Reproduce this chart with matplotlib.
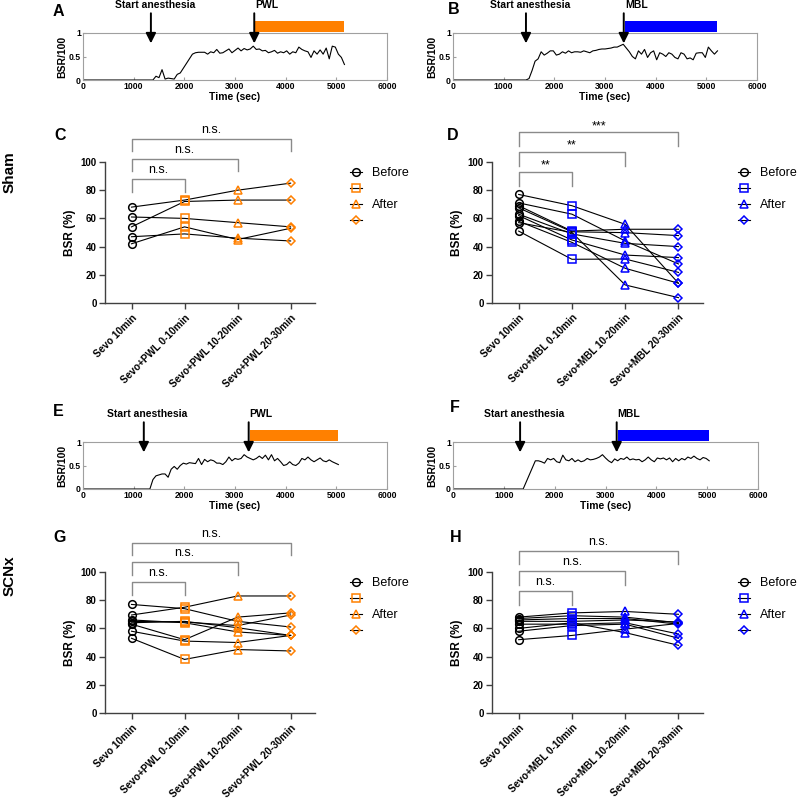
import matplotlib

matplotlib.use("Agg")

import matplotlib.pyplot as plt
import numpy as np
from matplotlib.lines import Line2D

plt.rcParams["font.family"] = ["Liberation Sans", "DejaVu Sans"]
plt.rcParams["font.weight"] = "bold"
plt.rcParams["axes.labelweight"] = "bold"

W, H = 797, 800
ORANGE = "#FF8000"
BLUE = "#0000FF"
BRACKET_GREY = "#8a8a8a"

# ---- EEG traces (BSR/100), sampled every 60 s after the flat baseline ----
STEP = 60
A_t0 = 1320
A_vals = [0.0, 0.0, 0.08, 0.05, 0.22, 0.02, 0.04, 0.03, 0.02, 0.12,
          0.15, 0.25, 0.35, 0.45, 0.55, 0.58, 0.59, 0.59, 0.59, 0.55,
          0.60, 0.58, 0.65, 0.57, 0.58, 0.62, 0.66, 0.58, 0.63, 0.68,
          0.62, 0.67, 0.64, 0.66, 0.72, 0.65, 0.66, 0.62, 0.63, 0.58,
          0.60, 0.63, 0.57, 0.60, 0.58, 0.62, 0.55, 0.60, 0.58, 0.70,
          0.65, 0.62, 0.60, 0.48, 0.62, 0.55, 0.64, 0.55, 0.68, 0.45,
          0.72, 0.70, 0.55, 0.48, 0.33]
B_t0 = 1440
B_vals = [0.0, 0.03, 0.20, 0.40, 0.45, 0.60, 0.53, 0.57, 0.62, 0.62,
          0.53, 0.55, 0.60, 0.57, 0.62, 0.58, 0.60, 0.60, 0.59, 0.62,
          0.60, 0.58, 0.62, 0.63, 0.65, 0.66, 0.66, 0.67, 0.68, 0.70,
          0.70, 0.73, 0.76, 0.68, 0.60, 0.50, 0.45, 0.62, 0.55, 0.65,
          0.48, 0.58, 0.62, 0.43, 0.58, 0.55, 0.50, 0.58, 0.55, 0.48,
          0.45, 0.58, 0.55, 0.45, 0.47, 0.43, 0.57, 0.58, 0.58, 0.48,
          0.70, 0.62, 0.55, 0.62]
E_t0 = 1320
E_vals = [0.0, 0.20, 0.28, 0.30, 0.32, 0.32, 0.25, 0.42, 0.48, 0.42,
          0.50, 0.55, 0.53, 0.56, 0.55, 0.54, 0.65, 0.52, 0.63, 0.58,
          0.62, 0.60, 0.55, 0.55, 0.52, 0.58, 0.68, 0.60, 0.65, 0.63,
          0.65, 0.73, 0.68, 0.65, 0.62, 0.65, 0.70, 0.65, 0.72, 0.62,
          0.73, 0.60, 0.65, 0.58, 0.50, 0.52, 0.58, 0.52, 0.50, 0.55,
          0.65, 0.62, 0.68, 0.62, 0.58, 0.62, 0.66, 0.60, 0.58, 0.62,
          0.58, 0.55, 0.52]
F_t0 = 1380
F_vals = [0.0, 0.15, 0.30, 0.45, 0.60, 0.60, 0.58, 0.55, 0.65, 0.62,
          0.65, 0.58, 0.56, 0.72, 0.62, 0.60, 0.65, 0.58, 0.62, 0.58,
          0.60, 0.65, 0.62, 0.63, 0.65, 0.68, 0.73, 0.66, 0.60, 0.56,
          0.64, 0.60, 0.65, 0.63, 0.68, 0.62, 0.64, 0.62, 0.63, 0.58,
          0.62, 0.68, 0.62, 0.58, 0.66, 0.64, 0.66, 0.62, 0.66, 0.58,
          0.65, 0.60, 0.65, 0.62, 0.68, 0.65, 0.70, 0.65, 0.62, 0.67,
          0.65, 0.60]

# event times (sec): start of anesthesia, lesion start, lesion end
A_events = (1340, 3380, 5150)
B_events = (1440, 3370, 5220)
E_events = (1200, 3270, 5030)
F_events = (1320, 3220, 5040)

# ---- BSR (%) per animal, one list per time window ----
PWL_CATS = ["Sevo 10min", "Sevo+PWL 0-10min", "Sevo+PWL 10-20min", "Sevo+PWL 20-30min"]
MBL_CATS = ["Sevo 10min", "Sevo+MBL 0-10min", "Sevo+MBL 10-20min", "Sevo+MBL 20-30min"]

C_sevo = [68, 54, 61, 42, 47]
C_0_10 = [73, 72, 60, 54, 49]
C_10_20 = [80, 73, 57, 45, 46]
C_20_30 = [85, 73, 54, 53, 44]

D_sevo = [77, 71, 69, 67.5, 63, 62, 58, 57, 51]
D_0_10 = [69, 63, 51, 50.5, 49, 44.7, 43, 50, 31]
D_10_20 = [55.8, 44, 52.3, 49.9, 42.3, 34, 24.6, 12.8, 31.2]
D_20_30 = [14, 27.7, 52.3, 47.8, 40, 32.2, 14, 3.8, 21.7]

G_sevo = [77, 69.5, 66, 65, 64, 63, 58, 53]
G_0_10 = [74, 75, 64, 64.5, 65, 52, 51, 38]
G_10_20 = [65, 83, 57.5, 62, 60.5, 68, 50, 45]
G_20_30 = [61, 83, 55, 69.5, 55, 71, 55, 44]

H_sevo = [68, 67, 66, 65, 63, 60, 58, 52]
H_0_10 = [71, 69, 67, 65, 63, 64, 62, 55]
H_10_20 = [72, 68, 67, 66, 64, 57, 63, 59.5]
H_20_30 = [70, 64, 63, 64.5, 56, 48, 53, 63.5]

# significance brackets: top of bracket (BSR %) and label, for Sevo 10min vs window 1..3
C_tops, C_sig = [88, 102.4, 116.5], ["n.s.", "n.s.", "n.s."]
D_tops, D_sig = [92.7, 106.9, 121], ["**", "**", "***"]
G_tops, G_sig = [92.9, 106.9, 120.8], ["n.s.", "n.s.", "n.s."]
H_tops, H_sig = [86.3, 100.5, 115.1], ["n.s.", "n.s.", "n.s."]

LEGEND_LABELS = ["Before", "", "After", ""]


def px_axes(fig, left, top, right, bottom):
    return fig.add_axes([left / W, 1 - bottom / H, (right - left) / W, (bottom - top) / H])


def draw_trace(ax, t0, vals, events, drug, color):
    t = np.concatenate([[0], t0 + STEP * np.arange(len(vals))])
    v = np.concatenate([[0], vals])
    ax.plot(t, v, color="k", lw=0.8)
    ax.set_xlim(0, 6000)
    ax.set_ylim(0, 1)
    ax.set_xticks(range(0, 6001, 1000))
    ax.set_yticks([0, 0.5, 1])
    ax.set_yticklabels(["0", "0.5", "1"])
    for s in ax.spines.values():
        s.set_color("#a0a0a0")
        s.set_linewidth(0.8)
    ax.tick_params(direction="in", length=2, color="#a0a0a0", labelsize=6.2, pad=1.5)
    ax.set_xlabel("Time (sec)", fontsize=7.5, labelpad=1)
    ax.set_ylabel("BSR/100", fontsize=7.5, labelpad=1)

    start, drug_on, drug_off = events
    ax.fill_between([drug_on + 20, drug_off], 1.02, 1.25, color=color, lw=0, clip_on=False)
    arrow = dict(arrowstyle="-|>,head_length=0.6,head_width=0.3", color="k", lw=1.4,
                 shrinkA=0, shrinkB=0)
    for x in (start, drug_on):
        ax.annotate("", xy=(x, 0.78), xytext=(x, 1.42), arrowprops=arrow,
                    annotation_clip=False)
    ax.text(start + 75, 1.6, "Start anesthesia", ha="center", va="center",
            fontsize=7.5, clip_on=False)
    ax.text(drug_on + 20, 1.6, drug, ha="left", va="center", fontsize=7.5, clip_on=False)


def draw_bsr(ax, cols, cats, color, tops, sig, drop):
    x = np.arange(len(cats))
    rows = list(zip(*cols))
    for row in rows:
        ax.plot(x, row, color="k", lw=0.8, zorder=2)
    markers = [("o", 5.5), ("s", 5.5), ("^", 5.5), ("D", 3.6)]
    for j, (m, ms) in enumerate(markers):
        mec = "k" if j == 0 else color
        ax.plot(np.full(len(cols[j]), x[j]), cols[j], ls="none", marker=m, ms=ms,
                mfc="none", mec=mec, mew=1.1, zorder=3)

    for k, (top, lab) in enumerate(zip(tops, sig), start=1):
        ax.plot([x[0], x[0], x[k], x[k]], [top - drop, top, top, top - drop],
                color=BRACKET_GREY, lw=1.0, clip_on=False)
        dy = 2 if lab == "n.s." else 0.3
        ax.text((x[0] + x[k]) / 2, top + dy, lab, ha="center", va="bottom",
                fontsize=9, fontweight="normal", clip_on=False)

    ax.set_xlim(-0.5, 3.46)
    ax.set_ylim(0, 100)
    ax.set_yticks(range(0, 101, 20))
    ax.set_xticks(x)
    ax.set_xticklabels(cats, rotation=45, ha="right", rotation_mode="anchor", fontsize=7.2)
    ax.tick_params(axis="y", labelsize=7, length=4, width=1, color="#404040", pad=2)
    ax.tick_params(axis="x", length=4, width=1, color="#404040", pad=3)
    for side in ("top", "right"):
        ax.spines[side].set_visible(False)
    for side in ("left", "bottom"):
        ax.spines[side].set_color("#404040")
        ax.spines[side].set_linewidth(1.0)
    ax.set_ylabel("BSR (%)", fontsize=8.5, labelpad=3)

    handles = []
    for j, (m, ms) in enumerate(markers):
        mec = "k" if j == 0 else color
        handles.append(Line2D([], [], color="k", lw=0.8, marker=m, ms=ms, mfc="none",
                              mec=mec, mew=1.1))
    ax.legend(handles, LEGEND_LABELS, loc="upper left", bbox_to_anchor=(1.165, 0.965),
              frameon=False, borderpad=0, borderaxespad=0, handlelength=1.0,
              handletextpad=0.8, labelspacing=0.34, prop={"size": 9, "weight": "normal"})


fig = plt.figure(figsize=(W / 100, H / 100), dpi=100)

axA = px_axes(fig, 83, 33, 387, 80)
axB = px_axes(fig, 453, 33, 757, 80)
axC = px_axes(fig, 105, 162, 315, 303)
axD = px_axes(fig, 492, 162, 703, 303)
axE = px_axes(fig, 83, 442, 387, 489)
axF = px_axes(fig, 453, 442, 758, 489)
axG = px_axes(fig, 105, 572, 315, 713)
axH = px_axes(fig, 492, 572, 703, 713)

draw_trace(axA, A_t0, A_vals, A_events, "PWL", ORANGE)
draw_trace(axB, B_t0, B_vals, B_events, "MBL", BLUE)
draw_trace(axE, E_t0, E_vals, E_events, "PWL", ORANGE)
draw_trace(axF, F_t0, F_vals, F_events, "MBL", BLUE)

draw_bsr(axC, [C_sevo, C_0_10, C_10_20, C_20_30], PWL_CATS, ORANGE, C_tops, C_sig, 9)
draw_bsr(axD, [D_sevo, D_0_10, D_10_20, D_20_30], MBL_CATS, BLUE, D_tops, D_sig, 9.5)
draw_bsr(axG, [G_sevo, G_0_10, G_10_20, G_20_30], PWL_CATS, ORANGE, G_tops, G_sig, 9)
draw_bsr(axH, [H_sevo, H_0_10, H_10_20, H_20_30], MBL_CATS, BLUE, H_tops, H_sig, 9.5)

# panel letters and row labels
for lab, x, y in [("A", 58, 12), ("B", 454, 9), ("C", 60, 135), ("D", 453, 136),
                  ("E", 58, 411), ("F", 455, 408), ("G", 60, 538), ("H", 456, 538)]:
    fig.text(x / W, 1 - y / H, lab, ha="center", va="center", fontsize=11.5)
fig.text(10 / W, 1 - 172 / H, "Sham", rotation=90, ha="center", va="center", fontsize=11)
fig.text(10 / W, 1 - 576 / H, "SCNx", rotation=90, ha="center", va="center", fontsize=11)

fig.savefig("out.png", dpi=100)
